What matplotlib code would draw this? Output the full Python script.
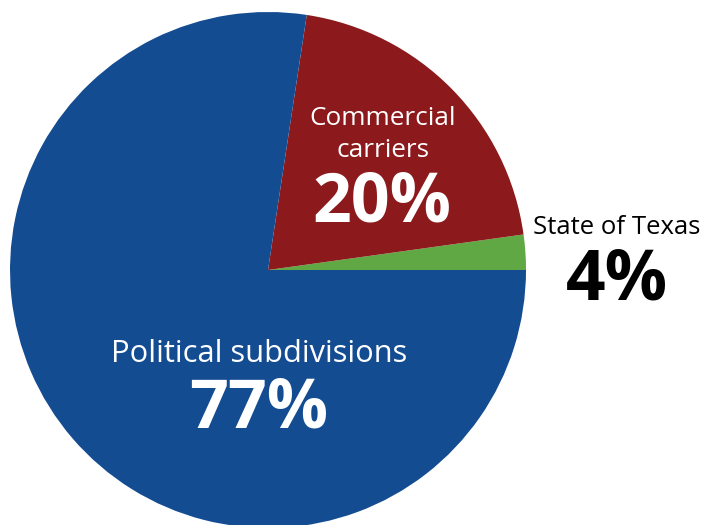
import matplotlib
matplotlib.use("Agg")
import matplotlib.pyplot as plt

# Data (shares; labels as printed on chart)
categories = ["State of Texas", "Commercial carriers", "Political subdivisions"]
shares = [2.2, 20.4, 77.4]
pct_labels = ["4%", "20%", "77%"]
colors = ["#5fa844", "#8c1a1c", "#144c92"]

plt.rcParams['font.family'] = ['Open Sans', 'DejaVu Sans']

H = 525
fig = plt.figure(figsize=(7.05, 5.25), dpi=100)
ax = fig.add_axes([0, 0, 1, 1])

ax.pie(shares, colors=colors, startangle=0, counterclock=True,
       center=(268, H - 270), radius=258, frame=True,
       wedgeprops=dict(linewidth=0))
ax.set_xlim(0, 705)
ax.set_ylim(0, H)
ax.set_aspect('equal')
ax.axis('off')

# Commercial carriers
ax.text(383, H - 125, "Commercial", ha='center', va='baseline',
        color='white', fontsize=18.8)
ax.text(383, H - 157, "carriers", ha='center', va='baseline',
        color='white', fontsize=18.8)
ax.text(382, H - 221, pct_labels[1], ha='center', va='baseline',
        color='white', fontsize=49, fontweight='bold')
# State of Texas
ax.text(617, H - 234, categories[0], ha='center', va='baseline',
        color='black', fontsize=18.5)
ax.text(617, H - 299, pct_labels[0], ha='center', va='baseline',
        color='black', fontsize=50, fontweight='bold')
# Political subdivisions
ax.text(259, H - 362, categories[2], ha='center', va='baseline',
        color='white', fontsize=22.2)
ax.text(259, H - 428, pct_labels[2], ha='center', va='baseline',
        color='white', fontsize=49, fontweight='bold')

fig.savefig("out.png", dpi=100)
